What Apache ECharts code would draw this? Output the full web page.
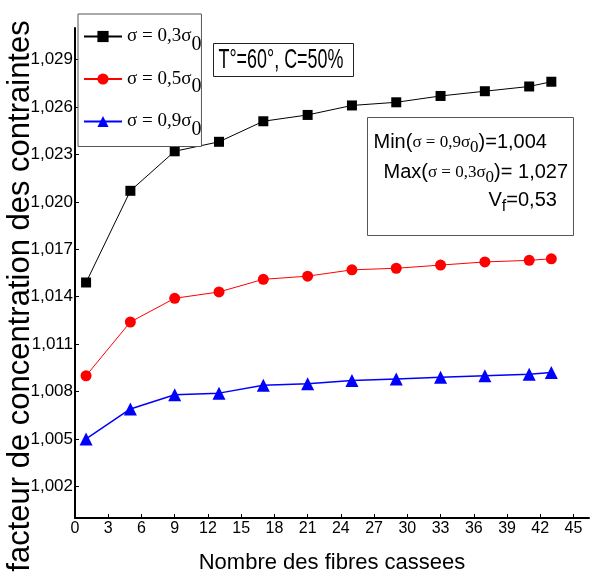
<!DOCTYPE html>
<html>
<head>
<meta charset="utf-8">
<script src="https://cdn.jsdelivr.net/npm/echarts@6/dist/echarts.min.js"></script>
<style>
  html, body { margin: 0; padding: 0; background: #fff; }
  #chart { width: 591px; height: 572px; }
</style>
</head>
<body>
<div id="chart"></div>
<script>
// nombre de fibres cassees
var fibres = [1, 5, 9, 13, 17, 21, 25, 29, 33, 37, 41, 43];
// facteur de concentration pour chaque sigma
var sigma03 = [1.0149, 1.0207, 1.0232, 1.0238, 1.0251, 1.0255, 1.0261, 1.0263, 1.0267, 1.0270, 1.0273, 1.0276];
var sigma05 = [1.0090, 1.0124, 1.0139, 1.0143, 1.0151, 1.0153, 1.0157, 1.0158, 1.0160, 1.0162, 1.0163, 1.0164];
var sigma09 = [1.0050, 1.0069, 1.0078, 1.0079, 1.0084, 1.0085, 1.0087, 1.0088, 1.0089, 1.0090, 1.0091, 1.0092];
// graduations
var xTicks = [0, 3, 6, 9, 12, 15, 18, 21, 24, 27, 30, 33, 36, 39, 42, 45];
var yTicks = [1.002, 1.005, 1.008, 1.011, 1.014, 1.017, 1.020, 1.023, 1.026, 1.029];

var narrow = "'Liberation Sans Narrow', 'Arial Narrow', 'Liberation Sans', Arial, sans-serif";
var sans = "'Liberation Sans', Arial, sans-serif";
var serif = "'Liberation Serif', 'Times New Roman', serif";

function pairs(ys) {
    return fibres.map(function (x, i) { return [x, ys[i]]; });
}

var legendNames = {
    s03: '{t|σ = 0,3σ}{s|0}',
    s05: '{t|σ = 0,5σ}{s|0}',
    s09: '{t|σ = 0,9σ}{s|0}'
};

var chart = echarts.init(document.getElementById('chart'));

chart.setOption({
    animation: false,
    backgroundColor: '#fff',
    grid: { left: 75, right: 2, top: 28, bottom: 54, outerBoundsMode: 'none', containLabel: false },
    legend: {
        orient: 'vertical',
        left: 78,
        top: 14,
        padding: [13, 0, 7, 5],
        itemGap: 15,
        itemWidth: 38,
        itemHeight: 14,
        backgroundColor: '#fff',
        borderColor: '#555',
        borderWidth: 1,
        borderRadius: 0,
        data: ['s03', 's05', 's09'],
        formatter: function (name) { return legendNames[name]; },
        textStyle: {
            rich: {
                t: { fontFamily: serif, fontSize: 19, color: '#000' },
                s: { fontFamily: serif, fontSize: 20, color: '#000', padding: [16, 0, 0, 0] }
            }
        }
    },
    xAxis: {
        type: 'value',
        min: 0,
        max: 46.4,
        name: 'Nombre des fibres cassees',
        nameLocation: 'middle',
        nameGap: 34,
        nameTextStyle: { fontFamily: sans, fontSize: 22, color: '#000' },
        axisLine: { show: true, lineStyle: { color: '#000', width: 2 } },
        axisTick: { show: true, inside: true, length: 4, lineStyle: { color: '#000' }, customValues: xTicks },
        axisLabel: { fontFamily: narrow, fontSize: 16, color: '#000', margin: 3, customValues: xTicks },
        splitLine: { show: false }
    },
    yAxis: {
        type: 'value',
        min: 1.000,
        max: 1.031,
        axisLine: { show: true, lineStyle: { color: '#000', width: 2 } },
        axisTick: { show: true, inside: true, length: 4, lineStyle: { color: '#000' }, customValues: yTicks },
        axisLabel: {
            fontFamily: narrow, fontSize: 17, color: '#000', margin: 2, customValues: yTicks,
            formatter: function (v) { return v.toFixed(3).replace('.', ','); }
        },
        splitLine: { show: false }
    },
    graphic: [
        {
            type: 'text',
            x: 20, y: 296,
            rotation: Math.PI / 2,
            style: {
                text: 'facteur de concentration des contraintes',
                font: '31px ' + sans,
                fill: '#000',
                textAlign: 'center',
                textVerticalAlign: 'middle'
            }
        },
        {
            type: 'group',
            left: 213, top: 43,
            children: [
                { type: 'rect', shape: { x: 0, y: 0, width: 140, height: 33 },
                  style: { fill: '#fff', stroke: '#222', lineWidth: 1 } },
                { type: 'text', x: 5, y: 17, scaleX: 0.64,
                  style: { text: 'T°=60°, C=50%', font: '28px ' + sans, fill: '#000',
                           textAlign: 'left', textVerticalAlign: 'middle' } }
            ]
        },
        {
            type: 'group',
            left: 367, top: 117,
            children: [
                { type: 'rect', shape: { x: 0, y: 0, width: 206, height: 118 },
                  style: { fill: '#fff', stroke: '#555', lineWidth: 1 } },
                { type: 'text', x: 6, y: 25,
                  style: {
                      text: '{a|Min(}{b|σ = 0,9σ}{c|0}{a|)=1,004}',
                      textAlign: 'left', textVerticalAlign: 'middle',
                      rich: {
                          a: { fontFamily: narrow, fontSize: 20, fill: '#000' },
                          b: { fontFamily: serif, fontSize: 17, fill: '#000' },
                          c: { fontFamily: serif, fontSize: 17, fill: '#000', padding: [10, 0, 0, 0] }
                      }
                  } },
                { type: 'text', x: 16, y: 55,
                  style: {
                      text: '{a|Max(}{b|σ = 0,3σ}{c|0}{a|)= 1,027}',
                      textAlign: 'left', textVerticalAlign: 'middle',
                      rich: {
                          a: { fontFamily: narrow, fontSize: 20, fill: '#000' },
                          b: { fontFamily: serif, fontSize: 17, fill: '#000' },
                          c: { fontFamily: serif, fontSize: 17, fill: '#000', padding: [10, 0, 0, 0] }
                      }
                  } },
                { type: 'text', x: 121, y: 83,
                  style: {
                      text: '{a|V}{c|f}{a|=0,53}',
                      textAlign: 'left', textVerticalAlign: 'middle',
                      rich: {
                          a: { fontFamily: narrow, fontSize: 20, fill: '#000' },
                          c: { fontFamily: narrow, fontSize: 16, fill: '#000', padding: [12, 0, 0, 0] }
                      }
                  } }
            ]
        }
    ],
    series: [
        {
            name: 's03', type: 'line', data: pairs(sigma03),
            symbol: 'rect', symbolSize: 10,
            lineStyle: { color: '#000', width: 1 },
            itemStyle: { color: '#000' }
        },
        {
            name: 's05', type: 'line', data: pairs(sigma05),
            symbol: 'circle', symbolSize: 11,
            lineStyle: { color: '#ff0000', width: 1 },
            itemStyle: { color: '#ff0000' }
        },
        {
            name: 's09', type: 'line', data: pairs(sigma09),
            symbol: 'triangle', symbolSize: 13,
            lineStyle: { color: '#0000ff', width: 1.5 },
            itemStyle: { color: '#0000ff' }
        }
    ]
});
</script>
</body>
</html>
